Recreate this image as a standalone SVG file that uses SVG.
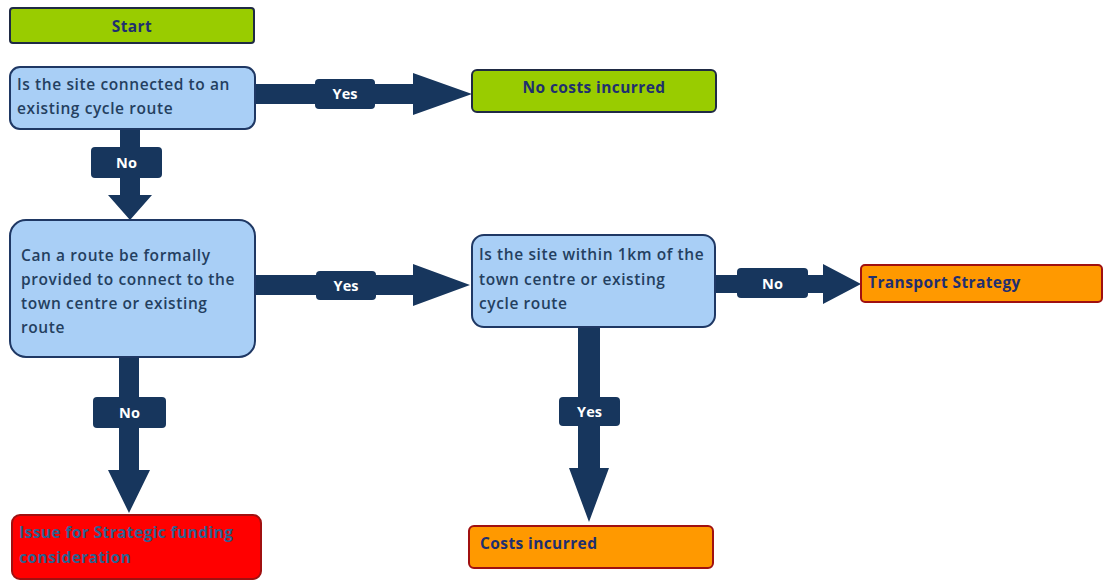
<svg xmlns="http://www.w3.org/2000/svg" width="1103" height="581" viewBox="0 0 1103 581">
<style>
.q{fill:#A9CFF6;stroke:#1F3864;stroke-width:2}
.g{fill:#99CC00;stroke:#1F2A44;stroke-width:2}
.o{fill:#FF9900;stroke:#A01010;stroke-width:2}
.r{fill:#FF0000;stroke:#A01010;stroke-width:2}
.t{font-family:"Open Sans","Liberation Sans",sans-serif;font-weight:600;font-size:15.5px;letter-spacing:0.6px;fill:#243F60}
.tb{font-family:"Open Sans","Liberation Sans",sans-serif;font-weight:700;font-size:15.5px;letter-spacing:0.4px;fill:#1F2F6F}
.arr{fill:#17365D}
.lb{fill:#17365D}
.lt{font-family:"Open Sans","Liberation Sans",sans-serif;font-weight:700;font-size:14.5px;fill:#FFFFFF;text-anchor:middle}
</style>
<rect width="1103" height="581" fill="#FFFFFF"/>
<g id="connectors">
<path class="arr" d="M255,84 H413 V73 L472,94 L413,115 V104 H255 Z"/>
<rect class="lb" x="315" y="79" width="60" height="30" rx="4"/>
<text class="lt" x="345" y="99">Yes</text>
<path class="arr" d="M120,129 H140 V195 H152 L130,220 L108,195 H120 Z"/>
<rect class="lb" x="91" y="147" width="71" height="31" rx="4"/>
<text class="lt" x="126.5" y="168">No</text>
<path class="arr" d="M255,275 H413 V264 L470,285 L413,306 V295 H255 Z"/>
<rect class="lb" x="316" y="271" width="60" height="29" rx="4"/>
<text class="lt" x="346" y="291">Yes</text>
<path class="arr" d="M716,275 H823 V264 L861,284 L823,304 V293 H716 Z"/>
<rect class="lb" x="737" y="268" width="71" height="30" rx="4"/>
<text class="lt" x="772.5" y="289">No</text>
<path class="arr" d="M119,357 H139 V470 H150 L129,513 L108,470 H119 Z"/>
<rect class="lb" x="93" y="397" width="73" height="31" rx="4"/>
<text class="lt" x="129.5" y="418">No</text>
<path class="arr" d="M578,327 H600 V468 H609 L589,522 L569,468 H578 Z"/>
<rect class="lb" x="559" y="397" width="61" height="29" rx="4"/>
<text class="lt" x="589.5" y="417">Yes</text>
</g>
<g id="start">
<rect class="g" x="10" y="8" width="244" height="35" rx="3"/>
<text class="tb" x="132" y="32" text-anchor="middle" font-size="17">Start</text>
</g>
<g id="q1">
<rect class="q" x="10" y="67" width="245" height="62" rx="10"/>
<text class="t" x="17" y="90">Is the site connected to an</text>
<text class="t" x="17" y="114">existing cycle route</text>
</g>
<g id="nocosts">
<rect class="g" x="472" y="70" width="244" height="42" rx="5"/>
<text class="tb" x="594" y="93" text-anchor="middle">No costs incurred</text>
</g>
<g id="q2">
<rect class="q" x="10" y="220" width="245" height="137" rx="16"/>
<text class="t" x="21" y="261">Can a route be formally</text>
<text class="t" x="21" y="285">provided to connect to the</text>
<text class="t" x="21" y="309">town centre or existing</text>
<text class="t" x="21" y="333">route</text>
</g>
<g id="q3">
<rect class="q" x="472" y="235" width="243" height="92" rx="12"/>
<text class="t" x="479" y="260">Is the site within 1km of the</text>
<text class="t" x="479" y="285">town centre or existing</text>
<text class="t" x="479" y="309">cycle route</text>
</g>
<g id="transport">
<rect class="o" x="861" y="265" width="241" height="37" rx="4"/>
<text class="tb" x="868" y="288">Transport Strategy</text>
</g>
<g id="costs">
<rect class="o" x="469" y="526" width="244" height="42" rx="5"/>
<text class="tb" x="480" y="549">Costs incurred</text>
</g>
<g id="issue">
<rect class="r" x="12" y="515" width="249" height="64" rx="8"/>
<text class="tb" x="19" y="538" style="fill:#2E6090">Issue for Strategic funding</text>
<text class="tb" x="19" y="563" style="fill:#2E6090">consideration</text>
</g>
</svg>
